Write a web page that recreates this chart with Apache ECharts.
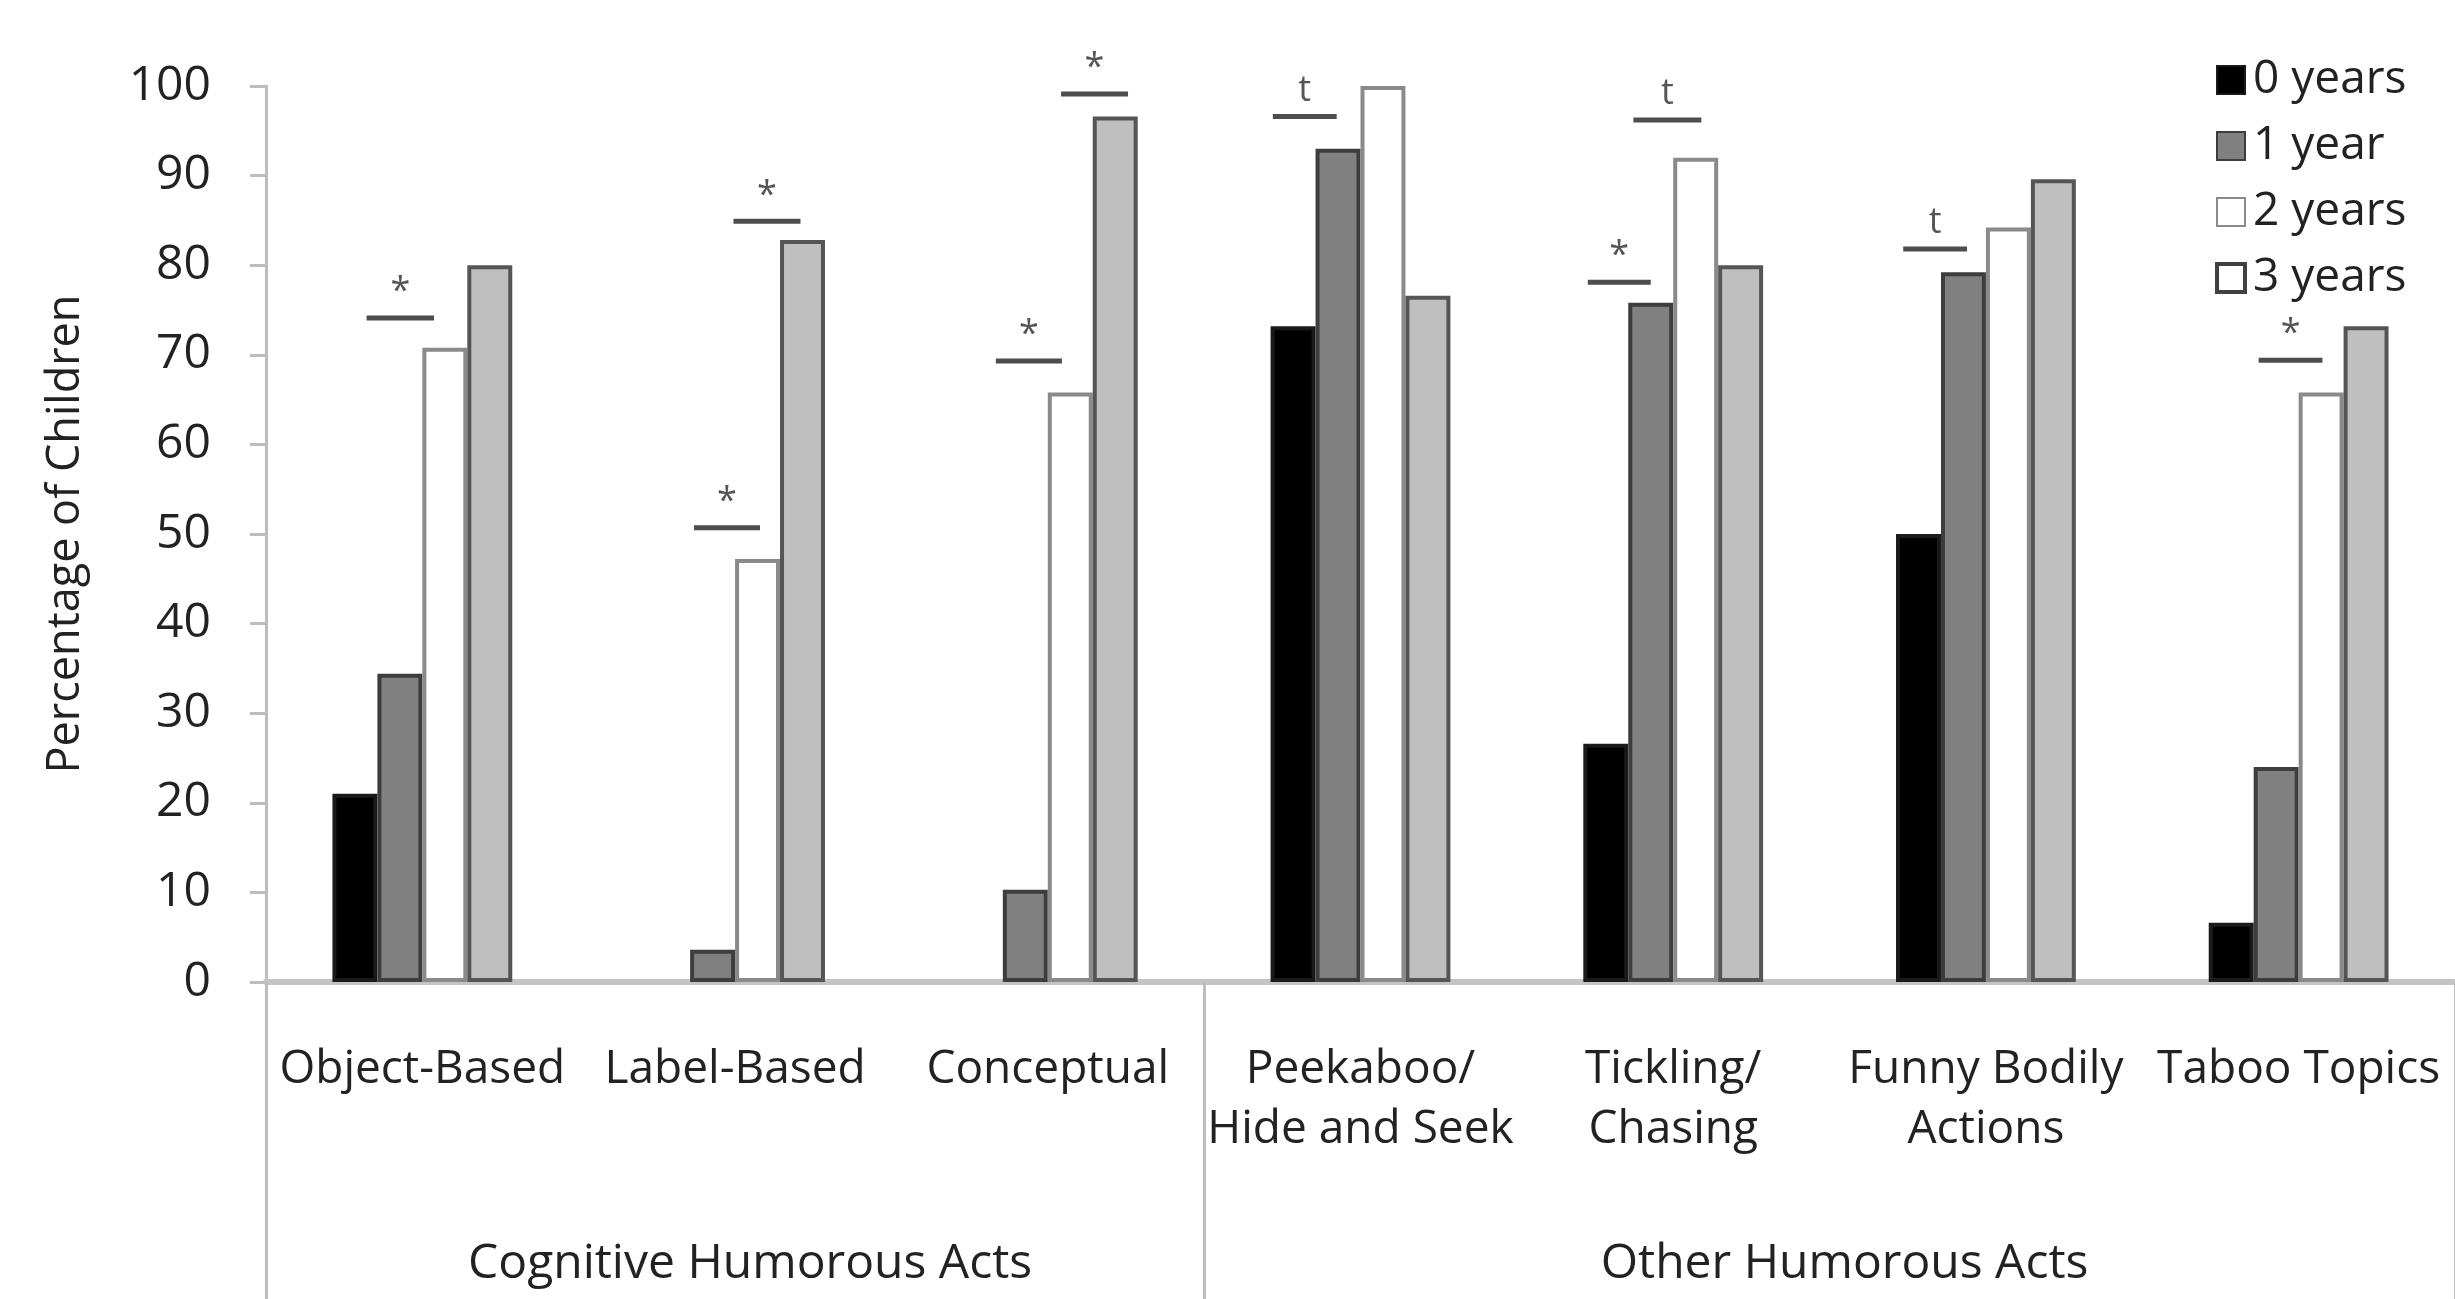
<!DOCTYPE html>
<html>
<head>
<meta charset="utf-8">
<script src="https://cdn.jsdelivr.net/npm/echarts@6/dist/echarts.min.js"></script>
<style>
html,body{margin:0;padding:0;background:#fff;}
#chart{width:2455px;height:1299px;}
</style>
</head>
<body>
<div id="chart"></div>
<script>
// ---- data ----
const categories = ['Object-Based', 'Label-Based', 'Conceptual', 'Peekaboo/\nHide and Seek', 'Tickling/\nChasing', 'Funny Bodily\nActions', 'Taboo Topics'];
const seriesNames = ['0 years', '1 year', '2 years', '3 years'];
const years0 = [21, 0, 0, 73.2, 26.6, 50, 6.6];
const years1 = [34.4, 3.6, 10.3, 93, 75.8, 79.2, 24];
const years2 = [70.8, 47.2, 65.8, 100, 92, 84.2, 65.8];
const years3 = [80, 82.8, 96.6, 76.6, 80, 89.6, 73.2];
const yTicks = [0, 10, 20, 30, 40, 50, 60, 70, 80, 90, 100];
const groupNames = ['Cognitive Humorous Acts', 'Other Humorous Acts'];
const groupStart = [0, 3];
const groupEnd = [2, 6];
// significance annotations
const sigCategory = [0, 1, 1, 2, 2, 3, 4, 4, 5, 6];
const sigValue = [74.1, 50.7, 84.9, 69.3, 99.1, 96.6, 78.1, 96.2, 81.8, 69.4];
const sigCenter = [-0.49, -0.18, 0.71, -0.42, 1.04, -1.24, -1.2, -0.13, -1.13, -0.18]; // in bar widths from category centre
const sigSpan = [1.5, 1.47, 1.49, 1.47, 1.49, 1.42, 1.4, 1.51, 1.42, 1.42];             // in bar widths
const sigLabel = ['*', '*', '*', '*', '*', 't', '*', 't', 't', '*'];

// ---- styles ----
const FONT = 'Open Sans';
const CAT_GAP = 0.425;
const GROUP_SHIFT = 15;
const fills = ['#000000', '#808080', '#ffffff', '#bfbfbf'];
const borders = ['#1a1a1a', '#3d3d3d', '#8a8a8a', '#555555'];
const allValues = [years0, years1, years2, years3];

const chart = echarts.init(document.getElementById('chart'), null, {renderer: 'canvas'});

const barSeries = allValues.map((vals, k) => ({
  name: seriesNames[k],
  type: 'bar',
  barGap: 0,
  barCategoryGap: (CAT_GAP * 100) + '%',
  itemStyle: {color: fills[k], borderColor: borders[k], borderWidth: 4},
  emphasis: {disabled: true},
  data: vals.map(v => v === 0 ? {value: 0, itemStyle: {borderWidth: 0}} : v),
  z: 3
}));

const sigSeries = {
  type: 'custom',
  coordinateSystem: 'cartesian2d',
  silent: true,
  z: 5,
  data: sigCategory.map((c, i) => [c, sigValue[i]]),
  encode: {x: 0, y: 1},
  renderItem: function (params, api) {
    const i = params.dataIndex;
    const p = api.coord([api.value(0), api.value(1)]);
    const bw = api.size([1, 0])[0];
    const barW = bw * (1 - CAT_GAP) / 4;
    const cx = p[0] + sigCenter[i] * barW;
    const half = sigSpan[i] * barW / 2;
    return {
      type: 'group',
      children: [
        {type: 'line', shape: {x1: cx - half, y1: p[1], x2: cx + half, y2: p[1]},
         style: {stroke: '#4d4d4d', lineWidth: 5}},
        {type: 'text', style: {text: sigLabel[i], x: cx, y: p[1] - 8, align: 'center', verticalAlign: 'bottom',
          fill: '#555', font: '36px "' + FONT + '"'}}
      ]
    };
  }
};

const legendData = seriesNames.map((n, k) => k === 3
  ? {name: n, itemStyle: {color: '#ffffff', borderColor: '#404040', borderWidth: 4}}
  : {name: n});

chart.setOption({
  animation: false,
  backgroundColor: '#ffffff',
  textStyle: {fontFamily: FONT},
  legend: {
    orient: 'vertical',
    left: 2210,
    top: 52,
    itemWidth: 28,
    itemHeight: 28,
    itemGap: 20,
    icon: 'rect',
    selectedMode: false,
    textStyle: {fontSize: 46, color: '#222', fontFamily: FONT, padding: [0, 0, 0, 3]},
    data: legendData
  },
  grid: {left: 266, right: 0, top: 86, bottom: 317, containLabel: false},
  xAxis: {
    type: 'category',
    data: categories,
    boundaryGap: true,
    axisLine: {show: true, lineStyle: {color: '#c4c4c4', width: 6}},
    axisTick: {
      show: true,
      length: 317,
      interval: function (index) { return groupStart.indexOf(index) >= 0; },
      lineStyle: {color: '#bdbdbd', width: 3}
    },
    axisLabel: {interval: 0, margin: 58, fontSize: 46, lineHeight: 60, color: '#222', fontFamily: FONT}
  },
  yAxis: {
    type: 'value',
    min: yTicks[0],
    max: yTicks[yTicks.length - 1],
    interval: yTicks[1] - yTicks[0],
    name: 'Percentage of Children',
    nameLocation: 'middle',
    nameRotate: 90,
    nameGap: 177,
    nameTextStyle: {fontSize: 45, color: '#222', fontFamily: FONT},
    axisLine: {show: true, lineStyle: {color: '#bdbdbd', width: 3}},
    axisTick: {show: true, length: 16, lineStyle: {color: '#bdbdbd', width: 3}},
    splitLine: {show: false},
    axisLabel: {margin: 55, fontSize: 48, color: '#222', fontFamily: FONT}
  },
  series: [...barSeries, sigSeries]
});

// group labels beneath the category labels
function drawGroups() {
  const x0 = chart.convertToPixel({xAxisIndex: 0}, 0);
  const x1 = chart.convertToPixel({xAxisIndex: 0}, 1);
  const bw = x1 - x0;
  const yBase = chart.convertToPixel({yAxisIndex: 0}, 0);
  const elements = groupNames.map((g, i) => {
    const left = chart.convertToPixel({xAxisIndex: 0}, groupStart[i]) - bw / 2;
    const right = chart.convertToPixel({xAxisIndex: 0}, groupEnd[i]) + bw / 2;
    return {
      type: 'text',
      x: (left + right) / 2 + GROUP_SHIFT,
      y: yBase + 282,
      style: {text: g, align: 'center', verticalAlign: 'middle', fill: '#222', font: '48px "' + FONT + '"'}
    };
  });
  chart.setOption({graphic: elements});
}
drawGroups();
</script>
</body>
</html>
